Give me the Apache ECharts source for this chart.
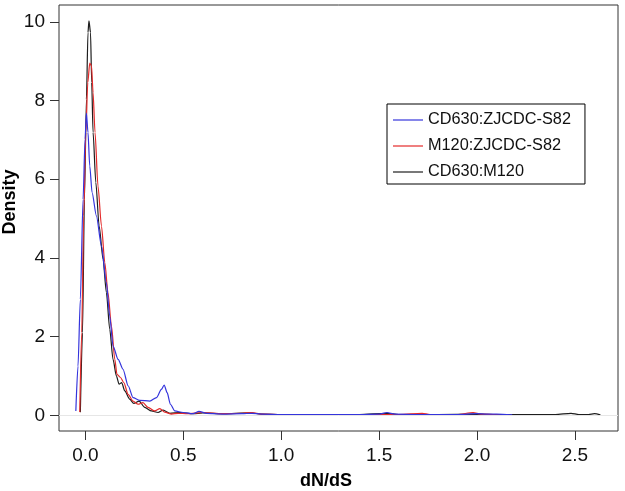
<!DOCTYPE html>
<html>
<head>
<meta charset="utf-8">
<script src="https://cdn.jsdelivr.net/npm/echarts@6/dist/echarts.min.js"></script>
<style>
  html, body { margin: 0; padding: 0; background: #fff; }
  #chart { width: 625px; height: 491px; }
</style>
</head>
<body>
<div id="chart"></div>
<script>
// Tick values
var xTicks = [0, 0.5, 1.0, 1.5, 2.0, 2.5];
var yTicks = [0, 2, 4, 6, 8, 10];

// Series names
var seriesNames = ['CD630:ZJCDC-S82', 'M120:ZJCDC-S82', 'CD630:M120'];

// Density curves: [dN/dS, density]
var blueCurve = [
  [-0.049, 0.11], [-0.038, 1.25], [-0.026, 2.95], [-0.012, 5.49], [-0.002, 7.02],
  [0.005, 7.68], [0.013, 7.19], [0.022, 6.34], [0.034, 5.66], [0.056, 5.07],
  [0.082, 4.30], [0.107, 3.37], [0.124, 2.52], [0.141, 1.76], [0.167, 1.42],
  [0.192, 1.17], [0.218, 0.75], [0.243, 0.45], [0.277, 0.38], [0.329, 0.36],
  [0.363, 0.45], [0.388, 0.66], [0.402, 0.77], [0.417, 0.58], [0.434, 0.28],
  [0.456, 0.11], [0.499, 0.07], [0.55, 0.04], [0.58, 0.10], [0.62, 0.05],
  [0.70, 0.03], [0.80, 0.04], [0.85, 0.05], [0.90, 0.03], [1.00, 0.02],
  [1.10, 0.02], [1.20, 0.02], [1.30, 0.02], [1.40, 0.02], [1.50, 0.03],
  [1.54, 0.07], [1.58, 0.03], [1.70, 0.02], [1.80, 0.02], [1.90, 0.02],
  [2.00, 0.04], [2.05, 0.03], [2.10, 0.03], [2.18, 0.01]
];
var redCurve = [
  [-0.029, 0.08], [-0.019, 2.10], [-0.009, 5.07], [0.002, 7.19], [0.012, 8.46],
  [0.022, 8.95], [0.031, 8.88], [0.039, 8.20], [0.049, 7.19], [0.064, 5.83],
  [0.082, 4.81], [0.099, 3.88], [0.115, 3.12], [0.133, 2.27], [0.150, 1.42],
  [0.161, 1.04], [0.179, 0.96], [0.196, 0.83], [0.218, 0.53], [0.243, 0.36],
  [0.269, 0.28], [0.294, 0.32], [0.320, 0.20], [0.354, 0.11], [0.380, 0.17],
  [0.405, 0.08], [0.440, 0.03], [0.473, 0.05], [0.52, 0.04], [0.60, 0.07],
  [0.70, 0.04], [0.80, 0.05], [0.85, 0.07], [0.90, 0.03], [1.00, 0.02],
  [1.20, 0.02], [1.40, 0.02], [1.60, 0.02], [1.72, 0.05], [1.76, 0.02],
  [1.90, 0.02], [1.98, 0.07], [2.02, 0.03], [2.12, 0.01]
];
var blackCurve = [
  [-0.026, 0.08], [-0.015, 2.10], [-0.005, 5.49], [0.005, 8.03], [0.013, 9.73],
  [0.018, 10.03], [0.026, 9.73], [0.032, 8.46], [0.039, 7.19], [0.053, 5.92],
  [0.070, 4.81], [0.090, 3.97], [0.107, 3.12], [0.124, 2.19], [0.141, 1.42],
  [0.158, 1.00], [0.172, 0.79], [0.185, 0.83], [0.201, 0.62], [0.226, 0.41],
  [0.247, 0.30], [0.274, 0.36], [0.303, 0.20], [0.337, 0.11], [0.371, 0.07],
  [0.397, 0.13], [0.431, 0.05], [0.482, 0.07], [0.55, 0.04], [0.60, 0.06],
  [0.70, 0.04], [0.84, 0.06], [0.90, 0.03], [1.00, 0.02], [1.20, 0.02],
  [1.40, 0.02], [1.54, 0.05], [1.60, 0.02], [1.80, 0.02], [2.00, 0.03],
  [2.10, 0.02], [2.20, 0.02], [2.30, 0.02], [2.40, 0.02], [2.48, 0.05],
  [2.52, 0.02], [2.57, 0.02], [2.60, 0.04], [2.63, 0.01]
];

var FONT = "'Liberation Sans', Arial, sans-serif";
var chart = echarts.init(document.getElementById('chart'), null, { renderer: 'canvas' });

function lineSeries(name, data, color) {
  return {
    name: name,
    type: 'line',
    data: data,
    symbol: 'none',
    showSymbol: false,
    smooth: 0.25,
    smoothMonotone: 'x',
    lineStyle: { color: color, width: 1.2 },
    itemStyle: { color: color },
    animation: false,
    silent: true
  };
}

var black = lineSeries(seriesNames[2], blackCurve, '#1e1e1e');
black.markLine = {
  silent: true,
  symbol: 'none',
  label: { show: false },
  lineStyle: { color: '#e6e6e6', type: 'solid', width: 1 },
  data: [{ yAxis: 0 }],
  animation: false
};

var LEGEND_ICON = 'path://M0,0L30,0L30,1.2L0,1.2Z';

var option = {
  backgroundColor: '#fff',
  animation: false,
  grid: {
    left: 59, right: 7, top: 5, bottom: 60,
    show: true, borderColor: '#333', borderWidth: 1, backgroundColor: 'transparent'
  },
  legend: {
    orient: 'vertical',
    left: 387, top: 104,
    padding: [8, 14, 4, 6],
    itemGap: 10,
    itemWidth: 30,
    itemHeight: 14,
    symbolKeepAspect: true,
    borderColor: '#000', borderWidth: 1,
    data: seriesNames.map(function (n) { return { name: n, icon: LEGEND_ICON }; }),
    textStyle: { fontSize: 16.3, color: '#111', fontFamily: FONT },
    selectedMode: false
  },
  xAxis: {
    type: 'value',
    min: -0.135, max: 2.72,
    axisLine: { show: false, onZero: false },
    splitLine: { show: false },
    axisTick: { show: true, inside: false, length: 9, customValues: xTicks, lineStyle: { color: '#333' } },
    axisLabel: {
      customValues: xTicks, margin: 15, fontSize: 19, color: '#111', fontFamily: FONT,
      formatter: function (v) { return v.toFixed(1); }
    }
  },
  yAxis: {
    type: 'value',
    min: -0.4, max: 10.43,
    axisLine: { show: false, onZero: false },
    splitLine: { show: false },
    axisTick: { show: true, inside: false, length: 9, customValues: yTicks, lineStyle: { color: '#333' } },
    axisLabel: {
      customValues: yTicks, margin: 14, fontSize: 19, color: '#111', fontFamily: FONT,
      formatter: function (v) { return String(v); }
    }
  },
  graphic: [
    {
      type: 'text',
      x: 326, y: 481,
      style: { text: 'dN/dS', font: "bold 18px " + FONT, fill: '#000', align: 'center', verticalAlign: 'middle' }
    },
    {
      type: 'text',
      x: 10, y: 202, rotation: Math.PI / 2,
      style: { text: 'Density', font: "bold 18px " + FONT, fill: '#000', align: 'center', verticalAlign: 'middle' }
    }
  ],
  series: [
    black,
    lineSeries(seriesNames[1], redCurve, '#e42a2a'),
    lineSeries(seriesNames[0], blueCurve, '#3434dc')
  ]
};
chart.setOption(option);
</script>
</body>
</html>
